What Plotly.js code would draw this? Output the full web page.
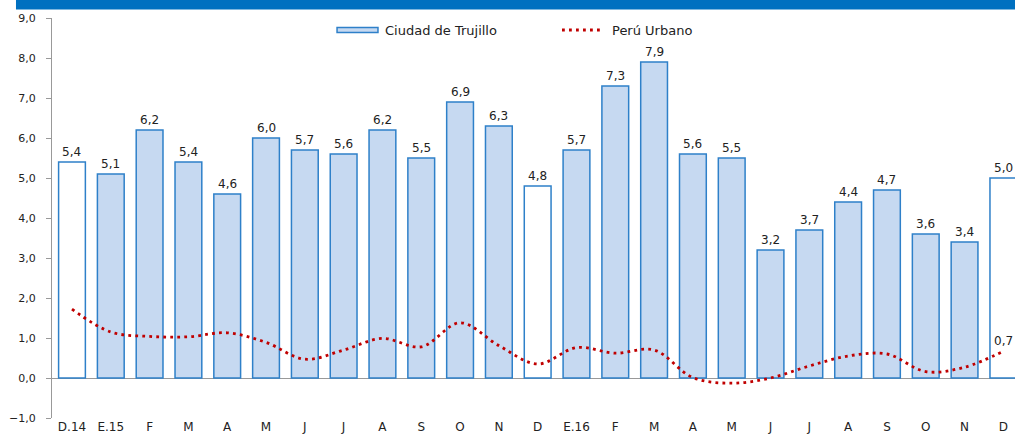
<!DOCTYPE html>
<html>
<head>
<meta charset="utf-8">
<script src="https://cdn.plot.ly/plotly-3.0.1.min.js"></script>
<style>
html,body{margin:0;padding:0;background:#fff;}
#chart{width:1015px;height:436px;}
</style>
</head>
<body>
<div id="chart"></div>
<script>
// ---- data ----
var categories = ["D.14","E.15","F","M","A","M","J","J","A","S","O","N","D","E.16","F","M","A","M","J","J","A","S","O","N","D"];
var trujillo = [5.4,5.1,6.2,5.4,4.6,6.0,5.7,5.6,6.2,5.5,6.9,6.3,4.8,5.7,7.3,7.9,5.6,5.5,3.2,3.7,4.4,4.7,3.6,3.4,5.0];
var peruUrbano = [1.72,1.15,1.04,1.03,1.13,0.89,0.47,0.70,0.99,0.78,1.38,0.81,0.35,0.76,0.62,0.70,0.01,-0.13,0.0,0.30,0.55,0.60,0.16,0.27,0.67];
var decemberIdx = [0,12,24];
var seriesNames = ["Ciudad de Trujillo", "Perú Urbano"];

// ---- build ----
var idx = categories.map(function(_, i){ return i; });
var fmt = function(v){ return v.toFixed(1).replace('.', ','); };
var barFill = idx.map(function(i){ return decemberIdx.indexOf(i) >= 0 ? '#FFFFFF' : '#C6D9F1'; });

var font = 'DejaVu Sans, Arial, sans-serif';
var barLine = '#2E80C9';
var lineColor = '#C00000';
var dotDash = '2.8px,4.2px';

var traces = [
  {
    type: 'bar', name: seriesNames[0],
    x: idx, y: trujillo,
    marker: {color: barFill, line: {color: barLine, width: 1.5}},
    hoverinfo: 'skip'
  },
  {
    type: 'scatter', mode: 'lines', name: seriesNames[1],
    x: idx, y: peruUrbano,
    line: {color: lineColor, width: 2.8, shape: 'spline', smoothing: 1, dash: dotDash},
    hoverinfo: 'skip'
  }
];

var annotations = idx.map(function(i){
  return {x: i, y: trujillo[i], xref: 'x', yref: 'y', text: fmt(trujillo[i]),
    showarrow: false, yanchor: 'bottom', yshift: 1,
    font: {family: font, size: 12, color: '#222'}};
});
var last = idx.length - 1;
annotations.push({x: last, y: peruUrbano[last], xref: 'x', yref: 'y', text: fmt(peruUrbano[last]),
  showarrow: false, yanchor: 'bottom', yshift: 1, font: {family: font, size: 12, color: '#222'}});

// custom legend (paper coords)
annotations.push({x: 0.3437, y: 0.97, xref: 'paper', yref: 'paper', text: seriesNames[0],
  showarrow: false, xanchor: 'left', yanchor: 'middle', font: {family: font, size: 13, color: '#222'}});
annotations.push({x: 0.5794, y: 0.97, xref: 'paper', yref: 'paper', text: seriesNames[1],
  showarrow: false, xanchor: 'left', yanchor: 'middle', font: {family: font, size: 13, color: '#222'}});

var layout = {
  width: 1015, height: 436,
  margin: {l: 52, r: 0, t: 18, b: 18, pad: 0},
  paper_bgcolor: '#fff', plot_bgcolor: '#fff',
  separators: ',.',
  font: {family: font, size: 12, color: '#222'},
  bargap: 0.31,
  showlegend: false,
  xaxis: {
    range: [-0.515, 24.3], tickmode: 'array', tickvals: idx, ticktext: categories,
    showline: false, showgrid: false, zeroline: false,
    ticks: '',
    tickfont: {family: font, size: 12, color: '#222'}, fixedrange: true
  },
  yaxis: {
    range: [-1, 9], dtick: 1, tick0: 0, tickformat: '.1f',
    showline: true, linecolor: '#999', linewidth: 1,
    ticks: 'outside', ticklen: 5, tickcolor: '#999',
    showgrid: false, zeroline: true, zerolinecolor: '#999', zerolinewidth: 1,
    ticklabelstandoff: 8,
    tickfont: {family: font, size: 11, color: '#222'}, fixedrange: true
  },
  shapes: [
    {type: 'rect', xref: 'paper', yref: 'paper', x0: -0.0374, x1: 1, y0: 1.021, y1: 1.045,
     fillcolor: '#0070C0', line: {width: 0}, layer: 'above'},
    {type: 'rect', xref: 'paper', yref: 'paper', x0: 0.2960, x1: 0.3385, y0: 0.96375, y1: 0.97625,
     fillcolor: '#C6D9F1', line: {color: barLine, width: 1.5}},
    {type: 'line', xref: 'paper', yref: 'paper', x0: 0.5296, x1: 0.5722, y0: 0.97, y1: 0.97,
     line: {color: lineColor, width: 2.8, dash: dotDash}}
  ],
  annotations: annotations
};

Plotly.newPlot('chart', traces, layout, {displayModeBar: false, staticPlot: true});
</script>
</body>
</html>
